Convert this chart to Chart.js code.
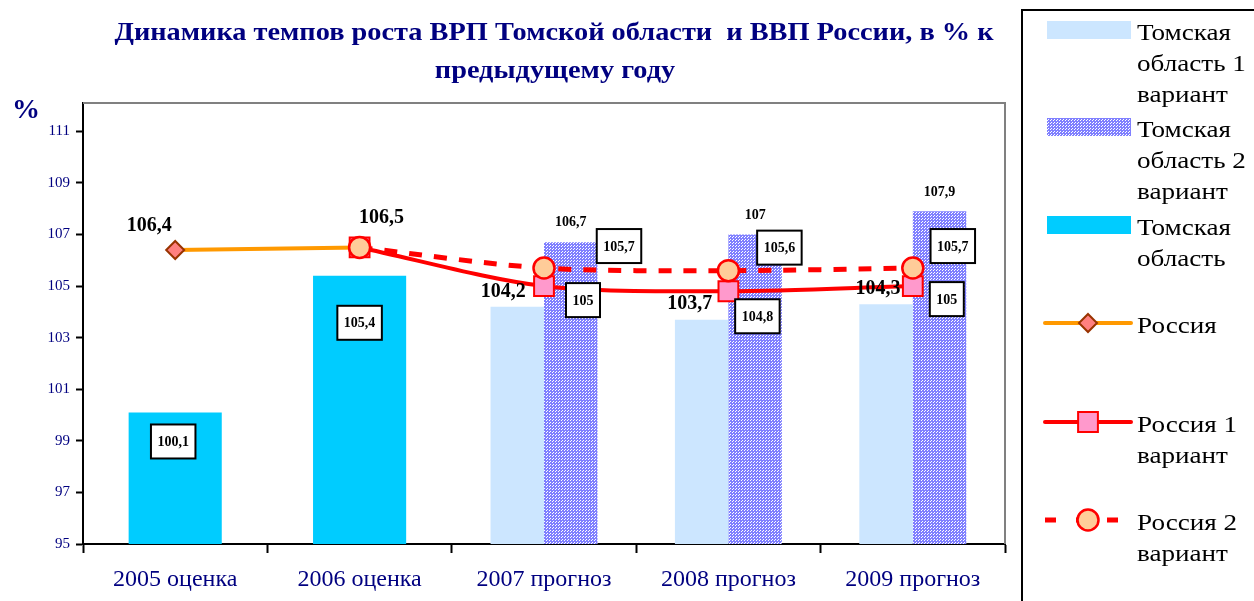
<!DOCTYPE html>
<html>
<head>
<meta charset="utf-8">
<script src="https://cdn.jsdelivr.net/npm/chart.js@4/dist/chart.umd.min.js"></script>
<style>
  html, body { margin: 0; padding: 0; background: #fff; }
  #wrap { width: 1254px; height: 601px; position: relative; }
</style>
</head>
<body>
<div id="wrap"><canvas id="chart"></canvas></div>
<script>
const CATEGORIES = ['2005 оценка', '2006 оценка', '2007 прогноз', '2008 прогноз', '2009 прогноз'];
const TOMSK_V1 = [null, null, 104.2, 103.7, 104.3];
const TOMSK_V2 = [null, null, 106.7, 107, 107.9];
const TOMSK = [100.1, 105.4, null, null, null];
const RUSSIA = [106.4, 106.5, null, null, null];
const RUSSIA_V1 = [null, 106.5, 105, 104.8, 105];
const RUSSIA_V2 = [null, 106.5, 105.7, 105.6, 105.7];
const Y_TICKS = [95, 97, 99, 101, 103, 105, 107, 109, 111];
const TITLE = ['Динамика темпов роста ВРП Томской области  и ВВП России, в % к', 'предыдущему году'];

const FONT = '"Liberation Serif", "Times New Roman", serif';
const NAVY = '#000080';

function dotPattern() {
  const c = document.createElement('canvas');
  c.width = 3; c.height = 3;
  const g = c.getContext('2d');
  g.fillStyle = '#8080ff';
  g.fillRect(0, 0, 3, 3);
  g.fillStyle = '#ffffff';
  g.fillRect(0, 0, 1, 1);
  g.fillRect(1, 2, 1, 1);
  return g.createPattern(c, 'repeat');
}

// how each dataset's value labels look (offsets from the mark, px)
const LABELS = [
  { size: 20, box: false, off: [null, null, [-14, -10], [-12, -11], [-8, -10]] },
  { size: 14, box: false, off: [null, null, [0, -16], [0, -16], [0, -15]] },
  { size: 14, box: true, off: [[-2, 29], [0, 47], null, null, null] },
  { size: 20, box: false, off: [[-26, -19], [22, -24], null, null, null] },
  { size: 14, box: true, off: [null, null, [39, 14], [29, 25], [34, 13]] },
  { size: 14, box: true, off: [null, null, [75, -22], [51, -23], [40, -22]] }
];

function fmt(v) {
  return String(v).replace('.', ',');
}

// text that the original renders a bit wider than the font does
function stretchedText(ctx, text, x, y, sx) {
  ctx.save();
  ctx.translate(x, y);
  ctx.scale(sx, 1);
  ctx.fillText(text, 0, 0);
  ctx.restore();
}

const labelPlugin = {
  id: 'valueLabels',
  afterDatasetsDraw(chart) {
    const ctx = chart.ctx;
    ctx.save();
    chart.data.datasets.forEach((ds, di) => {
      const spec = LABELS[di];
      const meta = chart.getDatasetMeta(di);
      ds.data.forEach((v, i) => {
        const off = spec.off[i];
        if (v == null || !off) return;
        const el = meta.data[i];
        const x = el.x + off[0];
        const y = el.y + off[1];
        ctx.font = 'bold ' + spec.size + 'px ' + FONT;
        ctx.textAlign = 'center';
        const text = fmt(v);
        if (spec.box) {
          const w = ctx.measureText(text).width + 13;
          const h = 34;
          ctx.fillStyle = '#fff';
          ctx.fillRect(x - w / 2, y - h / 2, w, h);
          ctx.strokeStyle = '#000';
          ctx.lineWidth = 2;
          ctx.strokeRect(x - w / 2, y - h / 2, w, h);
          ctx.fillStyle = '#000';
          ctx.textBaseline = 'middle';
          ctx.fillText(text, x, y + 1);
        } else {
          ctx.fillStyle = '#000';
          ctx.textBaseline = 'alphabetic';
          ctx.fillText(text, x, y);
        }
      });
    });
    ctx.restore();
  }
};

const framePlugin = {
  id: 'frame',
  beforeDatasetsDraw(chart) {
    const { ctx, chartArea: a } = chart;
    ctx.save();
    ctx.strokeStyle = '#808080';
    ctx.lineWidth = 2;
    ctx.beginPath();
    ctx.moveTo(a.left, a.top);
    ctx.lineTo(a.right, a.top);
    ctx.lineTo(a.right, a.bottom);
    ctx.stroke();
    ctx.restore();
  }
};

function wrap(ctx, text, maxW) {
  const words = text.split(' ');
  const lines = [];
  let cur = '';
  words.forEach(w => {
    const t = cur ? cur + ' ' + w : w;
    if (cur && ctx.measureText(t).width > maxW) {
      lines.push(cur);
      cur = w;
    } else {
      cur = t;
    }
  });
  if (cur) lines.push(cur);
  return lines;
}

function marker(ctx, ds, x, y) {
  ctx.fillStyle = ds.pointBackgroundColor;
  ctx.strokeStyle = ds.pointBorderColor;
  ctx.lineWidth = ds.pointBorderWidth;
  ctx.setLineDash([]);
  ctx.beginPath();
  const r = ds.pointRadius;
  if (ds.pointStyle === 'rectRot') {
    ctx.moveTo(x, y - r); ctx.lineTo(x + r, y); ctx.lineTo(x, y + r); ctx.lineTo(x - r, y);
    ctx.closePath();
  } else if (ds.pointStyle === 'rect') {
    const s = r * Math.SQRT1_2;
    ctx.rect(x - s, y - s, 2 * s, 2 * s);
  } else {
    ctx.arc(x, y, r, 0, Math.PI * 2);
  }
  ctx.fill();
  ctx.stroke();
}

const legendPlugin = {
  id: 'sideLegend',
  afterDraw(chart) {
    const ctx = chart.ctx;
    ctx.save();
    ctx.strokeStyle = '#000';
    ctx.lineWidth = 2;
    ctx.strokeRect(1022, 10, 260, 620);
    const baselines = [40, 137, 235, 333, 432, 530];
    const sx = 1.13;
    chart.data.datasets.forEach((ds, i) => {
      const base = baselines[i];
      const cy = base - 10;
      if (ds.type === 'line') {
        ctx.strokeStyle = ds.borderColor;
        ctx.lineWidth = ds.borderWidth;
        ctx.lineCap = 'round';
        if (ds.borderDash) {
          ctx.lineCap = 'butt';
          ctx.setLineDash([11, 20]);
        }
        ctx.beginPath();
        ctx.moveTo(1045, cy);
        ctx.lineTo(1131, cy);
        ctx.stroke();
        ctx.setLineDash([]);
        marker(ctx, ds, 1088, cy);
      } else {
        ctx.fillStyle = ds.backgroundColor;
        ctx.fillRect(1047, cy - 9, 84, 18);
      }
      ctx.fillStyle = '#000';
      ctx.textAlign = 'left';
      ctx.textBaseline = 'alphabetic';
      ctx.font = '24px ' + FONT;
      wrap(ctx, ds.label, 117 / sx).forEach((ln, k) => stretchedText(ctx, ln, 1137, base + k * 31, sx));
    });

    // title and unit
    ctx.fillStyle = NAVY;
    ctx.textAlign = 'center';
    ctx.font = 'bold 26px ' + FONT;
    stretchedText(ctx, TITLE[0], 554, 40, 1.09);
    stretchedText(ctx, TITLE[1], 555, 78, 1.09);
    ctx.textAlign = 'left';
    ctx.font = 'bold 28px ' + FONT;
    ctx.fillText('%', 12, 118);
    ctx.restore();
  }
};

new Chart(document.getElementById('chart'), {
  type: 'bar',
  data: {
    labels: CATEGORIES,
    datasets: [
      { label: 'Томская область 1 вариант', data: TOMSK_V1, backgroundColor: '#cce6ff',
        categoryPercentage: 0.58, barPercentage: 1, skipNull: true, order: 3 },
      { label: 'Томская область 2 вариант', data: TOMSK_V2, backgroundColor: dotPattern(),
        categoryPercentage: 0.58, barPercentage: 1, skipNull: true, order: 4 },
      { label: 'Томская область', data: TOMSK, backgroundColor: '#00ccff',
        categoryPercentage: 0.505, barPercentage: 1, skipNull: true, order: 5 },
      { type: 'line', label: 'Россия', data: RUSSIA, borderColor: '#ff9900', borderWidth: 4,
        pointStyle: 'rectRot', pointRadius: 9, pointBackgroundColor: '#ff8080',
        pointBorderColor: '#993300', pointBorderWidth: 2, order: 2 },
      { type: 'line', label: 'Россия 1 вариант', data: RUSSIA_V1, borderColor: '#ff0000', borderWidth: 4,
        tension: 0.3, pointStyle: 'rect', pointRadius: 14, pointBackgroundColor: '#ff99cc',
        pointBorderColor: '#ff0000', pointBorderWidth: 2, order: 1 },
      { type: 'line', label: 'Россия 2 вариант', data: RUSSIA_V2, borderColor: '#ff0000', borderWidth: 5,
        borderDash: [13, 12], tension: 0.3, pointStyle: 'circle', pointRadius: 10.5,
        pointBackgroundColor: '#ffcc99', pointBorderColor: '#ff0000', pointBorderWidth: 2.5, order: 0 }
    ]
  },
  options: {
    responsive: true,
    maintainAspectRatio: false,
    animation: false,
    layout: { padding: { top: 103, right: 249, left: 0, bottom: 0 } },
    plugins: { legend: { display: false }, tooltip: { enabled: false } },
    scales: {
      x: {
        grid: { drawOnChartArea: false, offset: true, tickLength: 9, tickColor: '#000', tickWidth: 2 },
        border: { color: '#000', width: 2 },
        ticks: { color: NAVY, font: { family: FONT, size: 24 }, padding: 12, maxRotation: 0 },
        afterFit: s => { s.height = 57; }
      },
      y: {
        min: 95,
        max: 112.1,
        afterBuildTicks: s => { s.ticks = Y_TICKS.map(v => ({ value: v })); },
        grid: { drawOnChartArea: false, tickLength: 7, tickColor: '#000', tickWidth: 2 },
        border: { color: '#000', width: 2 },
        ticks: { color: NAVY, font: { family: FONT, size: 15 }, padding: 6 },
        afterFit: s => { s.width = 83; }
      }
    }
  },
  plugins: [framePlugin, labelPlugin, legendPlugin]
});
</script>
</body>
</html>
